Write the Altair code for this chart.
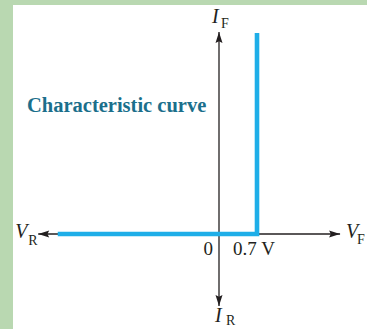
import altair as alt
import pandas as pd

# Ideal diode characteristic: no current until the 0.7 V knee, then vertical.
curve_v = [-2.97, 0.7, 0.7]      # volts
curve_i = [0.0, 0.0, 10.05]      # forward current (arbitrary units)
curve_order = [0, 1, 2]

# Axis extents (arrow tips)
v_min, v_max = -3.33, 2.23
i_min, i_max = -3.6, 10.1

KNEE_LABEL = "0.7 V"
ORIGIN_LABEL = "0"
CURVE_TITLE = "Characteristic curve"

INK = "#231f20"
BLUE = "#1eaee8"
TEAL = "#1b6f8c"
GREEN = "#b9d8b1"
SERIF = "Liberation Serif"

xs = alt.Scale(domain=[-3.7945, 2.7261], nice=False, zero=False)
ys = alt.Scale(domain=[-4.75, 11.45], nice=False, zero=False)
X = lambda f: alt.X(f, scale=xs, axis=None)
Y = lambda f: alt.Y(f, scale=ys, axis=None)

axes_df = pd.DataFrame({
    "x": [v_min, 0.0], "x2": [v_max, 0.0],
    "y": [0.0, i_min], "y2": [0.0, i_max],
})
axes = alt.Chart(axes_df).mark_rule(color=INK, strokeWidth=1.3).encode(
    x=X("x:Q"), x2="x2:Q", y=Y("y:Q"), y2="y2:Q"
)

curve_df = pd.DataFrame({"v": curve_v, "i": curve_i, "k": curve_order})
curve = alt.Chart(curve_df).mark_line(
    color=BLUE, strokeWidth=4.6, strokeCap="butt", strokeJoin="miter"
).encode(x=X("v:Q"), y=Y("i:Q"), order="k:Q")

# Arrowheads: tip sits on the data point, body trails behind it
arrow_shape = "M0,0L-0.7,2.2L0,1.85L0.7,2.2Z"
arrows_df = pd.DataFrame({
    "x": [0.0, v_max, 0.0, v_min],
    "y": [i_max, 0.0, i_min, 0.0],
    "ang": [0, 90, 180, 270],
})
arrows = alt.Chart(arrows_df).mark_point(
    shape=arrow_shape, filled=True, color=INK, size=100, opacity=1, strokeWidth=0
).encode(x=X("x:Q"), y=Y("y:Q"), angle=alt.Angle("ang:Q", scale=None))


def label(text, x, y, dx, dy, size, style="normal", weight="normal",
          color=INK, align="left"):
    df = pd.DataFrame({"x": [x], "y": [y], "t": [text]})
    return alt.Chart(df).mark_text(
        font=SERIF, fontSize=size, fontStyle=style, fontWeight=weight,
        color=color, align=align, baseline="alphabetic", dx=dx, dy=dy
    ).encode(x=X("x:Q"), y=Y("y:Q"), text="t:N")


labels = [
    label("I", 0.0, i_max, -7, -9, 20, "italic"),
    label("F", 0.0, i_max, 2, -4, 14),
    label("I", 0.0, i_min, -4, 16, 20, "italic"),
    label("R", 0.0, i_min, 7, 19, 14),
    label("V", v_min, 0.0, -23, 4, 20, "italic"),
    label("R", v_min, 0.0, -10, 11, 14),
    label("V", v_max, 0.0, 6, 4, 20, "italic"),
    label("F", v_max, 0.0, 17, 10, 14),
    label(ORIGIN_LABEL, 0.0, 0.0, -6, 21, 19, align="right"),
    label(KNEE_LABEL, 0.0, 0.0, 14, 21, 19),
    label(CURVE_TITLE, -3.537, 6.1, 0, 0, 20.5, weight="bold", color=TEAL),
]

chart = alt.layer(axes, curve, arrows, *labels).properties(
    width=354, height=324,
    padding={"left": 13, "top": 5, "right": 0, "bottom": 0},
    autosize=alt.AutoSizeParams(type="none"),
    background=GREEN,
).configure_view(fill="white", stroke=None)

chart.save("out.html", embed_options={"renderer": "svg", "actions": False})
